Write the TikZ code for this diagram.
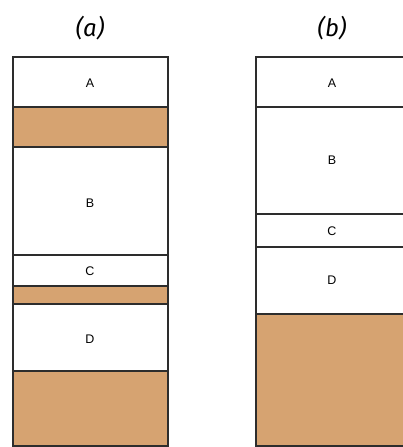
\documentclass[tikz,border=0pt]{standalone}
\usepackage{fontspec}
\setsansfont{Liberation Sans}
\newfontfamily\titlefont{Fira Sans}
\definecolor{clay}{RGB}{214,163,113}
\definecolor{rule}{RGB}{45,45,45}
\tikzset{
  layer/.style={font=\sffamily\fontsize{12.5}{13}\selectfont},
  coltitle/.style={font=\titlefont\itshape\fontsize{24}{27}\selectfont}
}
\begin{document}
\begin{tikzpicture}[x=1pt,y=-1pt]
\useasboundingbox (0,0) rectangle (402,447);
% column (a)
\fill[clay] (13,107) rectangle (168,147);
\fill[clay] (13,286) rectangle (168,304);
\fill[clay] (13,371) rectangle (168,446);
\draw[rule, line width=1.2pt] (13,57) rectangle (168,446);
\foreach \y in {107,147,255,286,304,371}
  \draw[rule, line width=1.1pt] (13,\y) -- (168,\y);
\node[coltitle] (atitle) at (90,28) {(a)};
\node[layer] (aA) at (90,83) {A};
\node[layer] (aB) at (90,203) {B};
\node[layer] (aC) at (90,271) {C};
\node[layer] (aD) at (90,339) {D};
% column (b)
\fill[clay] (256,314) rectangle (412,446);
\draw[rule, line width=1.2pt] (412,57) -- (256,57) -- (256,446) -- (412,446);
\foreach \y in {107,214,247,314}
  \draw[rule, line width=1.1pt] (256,\y) -- (412,\y);
\node[coltitle] (btitle) at (332,28) {(b)};
\node[layer] (bA) at (332,83) {A};
\node[layer] (bB) at (332,160) {B};
\node[layer] (bC) at (332,231) {C};
\node[layer] (bD) at (332,280) {D};
\end{tikzpicture}
\end{document}
